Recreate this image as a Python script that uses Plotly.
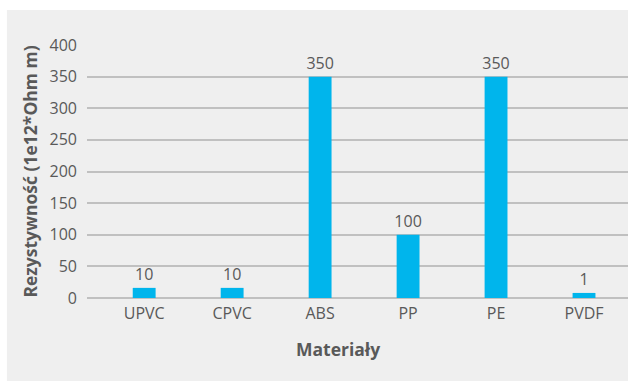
import plotly.graph_objects as go

categories = ["UPVC", "CPVC", "ABS", "PP", "PE", "PVDF"]
bar_heights = [16, 16, 350, 100, 350, 8]
value_labels = ["10", "10", "350", "100", "350", "1"]
y_ticks = [0, 50, 100, 150, 200, 250, 300, 350, 400]

text_color = "#595959"
font_family = "Open Sans, Noto Sans, sans-serif"

fig = go.Figure()
fig.add_trace(go.Bar(
    x=categories,
    y=bar_heights,
    text=value_labels,
    textposition="outside",
    constraintext="none",
    textfont=dict(size=16, color=text_color, family=font_family),
    marker=dict(color="#00B5EC", line=dict(width=0)),
    width=0.26,
    cliponaxis=False,
))

fig.add_shape(
    type="rect", xref="paper", yref="paper",
    x0=-0.148, x1=1.05, y0=-0.33, y1=1.138,
    fillcolor="#EFEFEF", line=dict(width=0), layer="below",
)

fig.add_annotation(
    text="<b>Rezystywność (1e12*Ohm m)</b>", xref="paper", yref="paper",
    x=-0.107, y=0.5, textangle=-90, showarrow=False,
    font=dict(size=17.5, color=text_color, family=font_family),
    xanchor="center", yanchor="middle",
)
fig.add_annotation(
    text="<b>Materiały</b>", xref="paper", yref="paper",
    x=0.464, y=-0.2, showarrow=False,
    font=dict(size=17.5, color=text_color, family=font_family),
    xanchor="center", yanchor="middle",
)

fig.update_layout(
    width=628, height=381,
    margin=dict(l=87, r=0, t=45, b=83),
    paper_bgcolor="white",
    plot_bgcolor="rgba(0,0,0,0)",
    showlegend=False,
    xaxis=dict(
        type="category", range=[-0.65, 5.5],
        showgrid=False, zeroline=False, showline=False,
        tickfont=dict(size=16, color=text_color, family=font_family),
        ticks="", ticklabelstandoff=4,
    ),
    yaxis=dict(
        range=[0, 400], tickvals=y_ticks,
        showgrid=True, gridcolor="#C0C0C0", gridwidth=1.5,
        zeroline=True, zerolinecolor="#C0C0C0", zerolinewidth=1.5,
        showline=False, ticks="",
        tickfont=dict(size=16, color=text_color, family=font_family),
        ticklabelstandoff=9,
    ),
)

fig.write_html("out.html")
